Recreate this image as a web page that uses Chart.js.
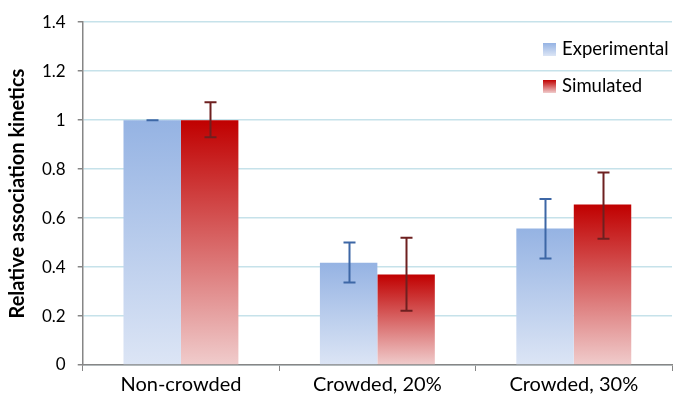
<!DOCTYPE html>
<html>
<head>
<meta charset="utf-8">
<script src="https://cdn.jsdelivr.net/npm/chart.js@4/dist/chart.umd.min.js"></script>
<style>
  html, body { margin: 0; padding: 0; background: #fff; }
  #wrap { width: 677px; height: 404px; }
</style>
</head>
<body>
<div id="wrap"><canvas id="c"></canvas></div>
<script>
'use strict';

const categories = ['Non-crowded', 'Crowded, 20%', 'Crowded, 30%'];
const experimental = [1.0, 0.418, 0.557];
const experimentalLow = [1.0, 0.337, 0.435];
const experimentalHigh = [1.0, 0.50, 0.678];
const simulated = [1.0, 0.37, 0.655];
const simulatedLow = [0.93, 0.222, 0.516];
const simulatedHigh = [1.073, 0.52, 0.786];

const FONT = 'Lato, "Open Sans", sans-serif';

function barGradient(top, bottom) {
  return function(ctx) {
    const chart = ctx.chart;
    if (!chart.chartArea || ctx.type !== 'data') return top;
    const y = chart.scales.y;
    const y0 = y.getPixelForValue(ctx.raw);
    const y1 = y.getPixelForValue(0);
    const g = chart.ctx.createLinearGradient(0, y0, 0, y1);
    g.addColorStop(0, top);
    g.addColorStop(1, bottom);
    return g;
  };
}

// error bars + legend
const extras = {
  id: 'extras',
  afterDatasetsDraw(chart) {
    const ctx = chart.ctx;
    const y = chart.scales.y;
    const sets = [
      { low: experimentalLow, high: experimentalHigh, color: '#3d67a6' },
      { low: simulatedLow, high: simulatedHigh, color: '#6e2020' }
    ];
    ctx.save();
    sets.forEach((s, i) => {
      const meta = chart.getDatasetMeta(i);
      meta.data.forEach((bar, j) => {
        const x = Math.round(bar.x) + 0.5;
        const yl = y.getPixelForValue(s.low[j]);
        const yh = y.getPixelForValue(s.high[j]);
        ctx.strokeStyle = s.color;
        ctx.lineWidth = 2;
        ctx.beginPath();
        ctx.moveTo(x, yl); ctx.lineTo(x, yh);
        ctx.moveTo(x - 6, yl); ctx.lineTo(x + 6, yl);
        ctx.moveTo(x - 6, yh); ctx.lineTo(x + 6, yh);
        ctx.stroke();
      });
    });

    // legend
    const items = [
      { text: 'Experimental', top: '#95b3e3', bottom: '#dce5f5' },
      { text: 'Simulated', top: '#c00000', bottom: '#f0cccc' }
    ];
    ctx.font = '18.5px ' + FONT;
    ctx.textBaseline = 'middle';
    items.forEach((it, k) => {
      const bx = 543, by = 43 + k * 37;
      const g = ctx.createLinearGradient(0, by, 0, by + 13);
      g.addColorStop(0, it.top);
      g.addColorStop(1, it.bottom);
      ctx.fillStyle = g;
      ctx.fillRect(bx, by, 13, 13);
      ctx.fillStyle = '#000';
      ctx.fillText(it.text, 562, by + 6);
    });
    ctx.restore();
  }
};

new Chart(document.getElementById('c'), {
  type: 'bar',
  data: {
    labels: categories,
    datasets: [
      {
        label: 'Experimental',
        data: experimental,
        backgroundColor: barGradient('#95b3e3', '#dce5f5'),
        borderWidth: 0
      },
      {
        label: 'Simulated',
        data: simulated,
        backgroundColor: barGradient('#c00000', '#f0cccc'),
        borderWidth: 0
      }
    ]
  },
  options: {
    responsive: true,
    maintainAspectRatio: false,
    animation: false,
    devicePixelRatio: 1,
    layout: { padding: { left: 6, right: 5, top: 11, bottom: 5 } },
    datasets: { bar: { categoryPercentage: 0.585, barPercentage: 1.0 } },
    plugins: {
      legend: { display: false },
      tooltip: { enabled: false }
    },
    scales: {
      x: {
        grid: { display: true, drawOnChartArea: false, color: '#868686', tickLength: 6, offset: true },
        border: { color: '#868686', width: 1.5 },
        ticks: { color: '#000', font: { family: FONT, size: 20 }, padding: 2 }
      },
      y: {
        min: 0, max: 1.4,
        ticks: {
          stepSize: 0.2, color: '#000', font: { family: FONT, size: 17 }, padding: 12,
          callback: (v) => String(Math.round(v * 10) / 10)
        },
        grid: { color: '#c6e2ea', lineWidth: 1.5, tickLength: 5, tickColor: '#868686' },
        border: { color: '#868686', width: 1.5 },
        title: {
          display: true,
          text: 'Relative association kinetics',
          color: '#000',
          font: { family: FONT, size: 20, weight: 'bold' },
          padding: { top: 0, bottom: 0 }
        }
      }
    }
  },
  plugins: [extras]
});
</script>
</body>
</html>
